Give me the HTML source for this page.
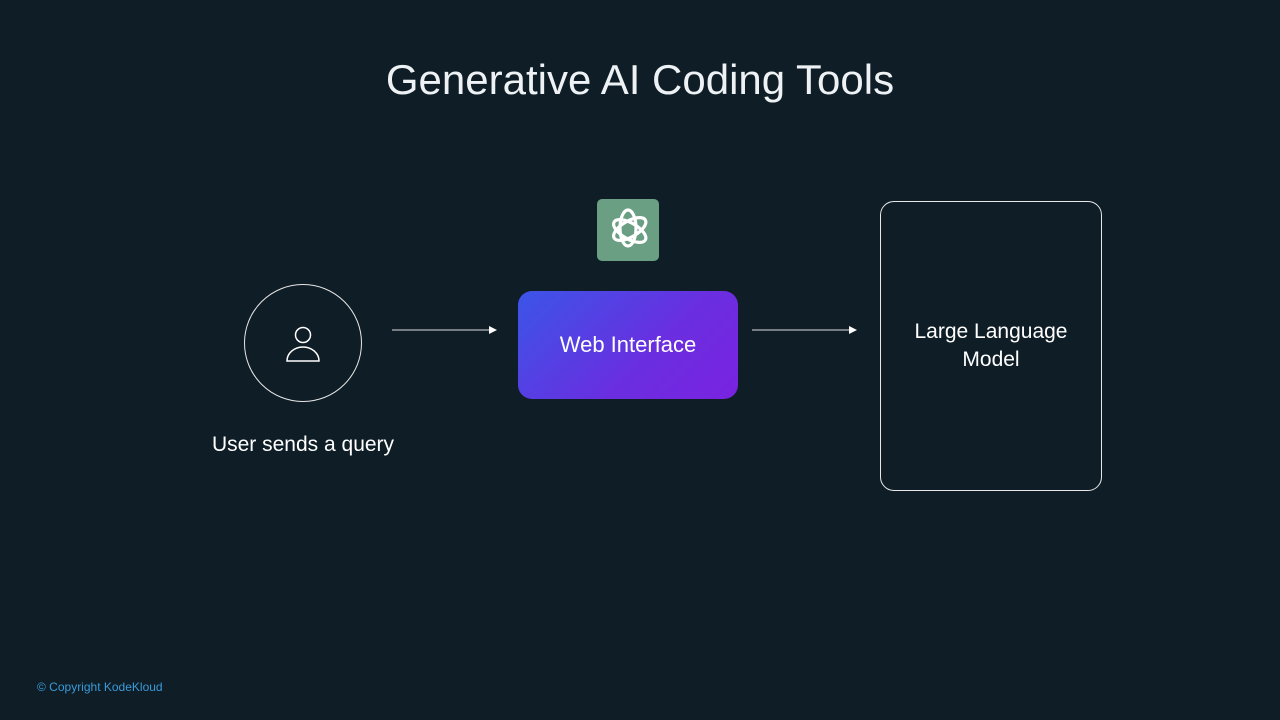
<!DOCTYPE html>
<html><head><meta charset="utf-8"><style>
body{margin:0;width:1280px;height:720px;background:#0f1d26;position:relative;overflow:hidden;font-family:"Liberation Sans",sans-serif;color:#fff}
.a{position:absolute}
</style></head><body>
<div class="a" style="left:0;width:1280px;top:56px;text-align:center;font-size:42px;color:#eef2f5">Generative AI Coding Tools</div>
<div class="a" style="left:244px;top:284px;width:116px;height:116px;border:1.5px solid #e8e8e8;border-radius:50%"></div>
<svg class="a" style="left:284px;top:324px" width="40" height="40"><circle cx="19" cy="11" r="7.5" fill="none" stroke="#fff" stroke-width="1.5"/><path d="M3 37 A16 14 0 0 1 35 37 Z" fill="none" stroke="#fff" stroke-width="1.5"/></svg>
<div class="a" style="left:150px;width:306px;top:433px;text-align:center;font-size:21px">User sends a query</div>
<svg class="a" style="left:0;top:0" width="1280" height="720">
<line x1="392" y1="330" x2="490" y2="330" stroke="#ddd" stroke-width="1"/><path d="M489 326 L497 330 L489 334Z" fill="#fff"/>
<line x1="752" y1="330" x2="850" y2="330" stroke="#ddd" stroke-width="1"/><path d="M849 326 L857 330 L849 334Z" fill="#fff"/>
</svg>
<div class="a" style="left:597px;top:199px;width:62px;height:62px;border-radius:5px;background:#6a9f84"></div>
<svg class="a" style="left:604px;top:206px" width="48" height="48" viewBox="0 0 48 48" fill="none" stroke="#fff" stroke-width="3.2">
<g transform="translate(24 24)"><ellipse rx="8" ry="18" transform="rotate(0) translate(0 -2)"/><ellipse rx="8" ry="18" transform="rotate(60) translate(0 -2)"/><ellipse rx="8" ry="18" transform="rotate(120) translate(0 -2)"/></g></svg>
<div class="a" style="left:518px;top:291px;width:220px;height:108px;border-radius:14px;background:linear-gradient(135deg,#3b55e8,#6a2ee0 60%,#7a22e0);display:flex;align-items:center;justify-content:center;font-size:22px">Web Interface</div>
<div class="a" style="left:880px;top:201px;width:220px;height:288px;border:1.5px solid #e8e8e8;border-radius:14px"></div>
<div class="a" style="left:880px;width:222px;top:318px;text-align:center;font-size:21px;line-height:28px">Large Language<br>Model</div>
<div class="a" style="left:37px;top:680px;font-size:12px;color:#3a9ad9">© Copyright KodeKloud</div>
</body></html>
